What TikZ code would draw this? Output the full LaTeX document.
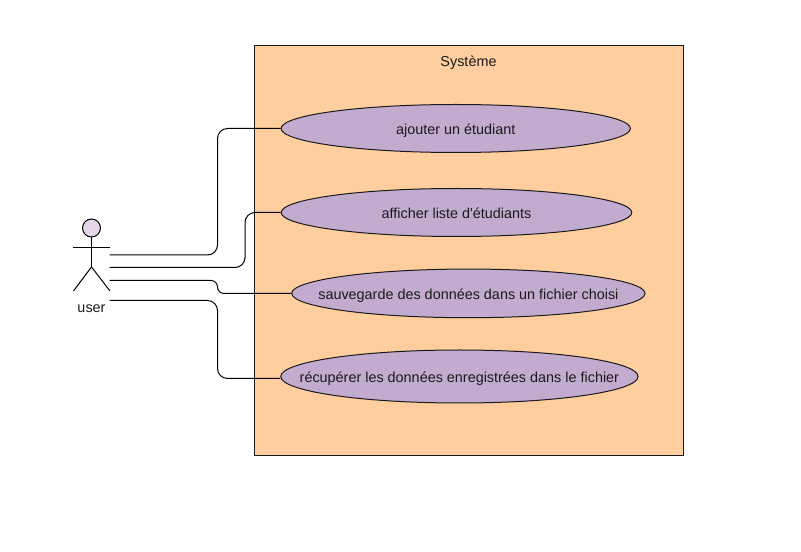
\documentclass[tikz,border=0pt]{standalone}
\usepackage{fontspec}
\setmainfont{Liberation Sans}[Ligatures=TeXOff]
\usetikzlibrary{shapes.geometric}
\definecolor{boxfill}{HTML}{FFCE9F}
\definecolor{casefill}{HTML}{C3ABD0}
\definecolor{headfill}{HTML}{E1D5E7}
\definecolor{ink}{HTML}{1A1A1A}
\newcommand\casetext[1]{\raisebox{-4.4pt}[0pt][0pt]{\makebox[0pt]{#1}}}
\tikzset{
  usecase/.style={ellipse,draw=ink,fill=casefill,line width=0.75pt,inner sep=0pt,text=ink,font=\fontsize{10.8pt}{13pt}\selectfont},
  link/.style={draw=black,line width=0.75pt,rounded corners=7.5pt},
  actorline/.style={draw=black,line width=0.75pt},
  plain/.style={inner sep=0pt,text=ink,font=\fontsize{10.8pt}{13pt}\selectfont}
}
\begin{document}
\begin{tikzpicture}[x=0.75pt,y=-0.75pt]
\useasboundingbox (0,0) rectangle (801,552);
\node[draw=ink,fill=boxfill,line width=0.75pt,minimum width=321.6pt,minimum height=307.5pt,inner sep=0pt] (sys) at (468.8,250.4) {};
\node[plain] (systitle) at (468.5,62.3) {Système};
\node[usecase,minimum width=262pt,minimum height=36pt] (c1) at (455.75,128.5) {\casetext{ajouter un étudiant}};
\node[usecase,minimum width=263pt,minimum height=36pt] (c2) at (456.5,212.5) {\casetext{afficher liste d'étudiants}};
\node[usecase,minimum width=265pt,minimum height=36.5pt] (c3) at (468.4,293.4) {\casetext{sauvegarde des données dans un fichier choisi}};
\node[usecase,minimum width=268pt,minimum height=39.75pt] (c4) at (459.4,376.5) {\casetext{récupérer les données enregistrées dans le fichier}};
\node[circle,draw=black,fill=headfill,line width=0.75pt,minimum size=13.5pt,inner sep=0pt] (head) at (91.5,228) {};
\coordinate (hip) at (91.5,267);
\coordinate (armL) at (73,248);
\coordinate (armR) at (110,248);
\coordinate (legL) at (73.5,291);
\coordinate (legR) at (110,291);
\draw[actorline] (head.south) -- (hip);
\draw[actorline] (armL) -- (armR);
\draw[actorline] (legL) -- (hip) -- (legR);
\node[plain] (user) at (91.5,308.3) {user};
\coordinate (s1) at (109.5,255);
\coordinate (s2) at (109.5,267.5);
\coordinate (s3) at (109.5,280.5);
\coordinate (s4) at (109.5,300.5);
\draw[link] (s1) -- (217.5,255) -- (217.5,128.5) -- (c1.west);
\draw[link] (s2) -- (245,267.5) -- (245,212.5) -- (c2.west);
\draw[link,rounded corners=4.8pt] (s3) -- (217.5,280.5) -- (217.5,293.4) -- (c3.west);
\draw[link] (s4) -- (217.5,300.5) -- (217.5,378.5) -- (c4.west |- 0,378.5);
\end{tikzpicture}
\end{document}
